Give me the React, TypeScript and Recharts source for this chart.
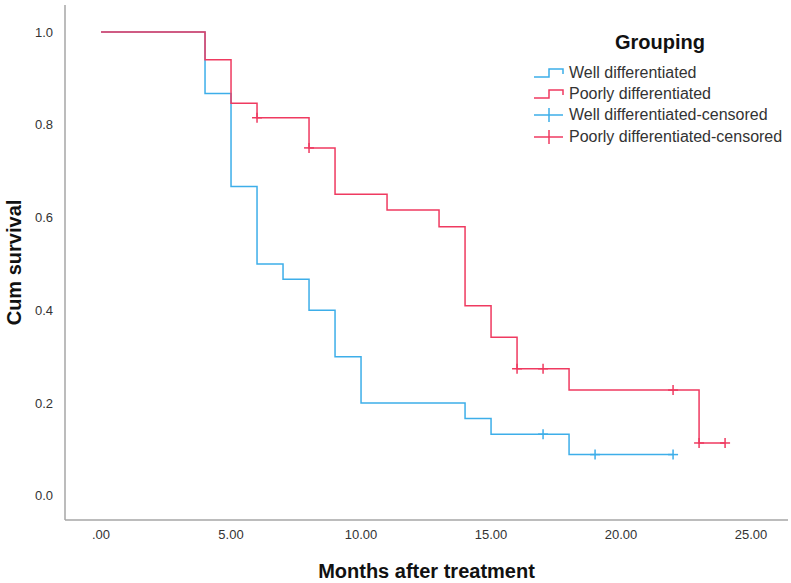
import { ComposedChart, Line, Scatter, XAxis, YAxis } from 'recharts'

// Kaplan-Meier steps
const wellTime = [0, 4, 5, 6, 7, 8, 9, 10, 14, 15, 18, 22]
const wellSurv = [1, 0.867, 0.667, 0.5, 0.467, 0.4, 0.3, 0.2, 0.167, 0.133, 0.089, 0.089]
const wellCensTime = [17, 19, 22]
const wellCensSurv = [0.133, 0.089, 0.089]

const poorTime = [0, 4, 5, 6, 8, 9, 11, 13, 14, 15, 16, 18, 23, 24]
const poorSurv = [1, 0.94, 0.846, 0.815, 0.75, 0.65, 0.616, 0.58, 0.41, 0.342, 0.274, 0.228, 0.114, 0.114]
const poorCensTime = [6, 8, 16, 17, 22, 23, 24]
const poorCensSurv = [0.815, 0.75, 0.274, 0.274, 0.228, 0.114, 0.114]

const xTicks = [0, 5, 10, 15, 20, 25]
const yTicks = [0, 0.2, 0.4, 0.6, 0.8, 1.0]

const legendTitle = 'Grouping'
const legendLabels = [
  'Well differentiated',
  'Poorly differentiated',
  'Well differentiated-censored',
  'Poorly differentiated-censored',
]

const BLUE = '#3daee9'
const RED = '#ef3a60'
const FONT = '"Liberation Sans", Arial, sans-serif'

const zip = (xs: number[], ys: number[]) => xs.map((x, i) => ({ x, y: ys[i] }))

const wellData = zip(wellTime, wellSurv)
const poorData = zip(poorTime, poorSurv)
const wellCens = zip(wellCensTime, wellCensSurv)
const poorCens = zip(poorCensTime, poorCensSurv)

const cross = (color: string) => (props: any) => {
  const { cx, cy } = props
  return (
    <g stroke={color} strokeWidth={1.5}>
      <line x1={cx - 5} y1={cy} x2={cx + 5} y2={cy} />
      <line x1={cx} y1={cy - 5} x2={cx} y2={cy + 5} />
    </g>
  )
}

function StepIcon({ color }: { color: string }) {
  return (
    <svg width={32} height={14} style={{ display: 'block' }}>
      <polyline points="1,11 16,11 16,3 30,3 30,8" fill="none" stroke={color} strokeWidth={1.5} />
    </svg>
  )
}

function CrossIcon({ color }: { color: string }) {
  return (
    <svg width={32} height={14} style={{ display: 'block' }}>
      <line x1={1} y1={7} x2={30} y2={7} stroke={color} strokeWidth={1.5} />
      <line x1={16} y1={0} x2={16} y2={14} stroke={color} strokeWidth={1.5} />
    </svg>
  )
}

// legend sits over the plot, outside recharts' layout so it takes no space
function KMLegend() {
  const icons = [
    <StepIcon color={BLUE} />,
    <StepIcon color={RED} />,
    <CrossIcon color={BLUE} />,
    <CrossIcon color={RED} />,
  ]
  return (
    <div style={{ position: 'absolute', left: 533, top: 29, width: 258, fontFamily: FONT, color: '#333' }}>
      <div style={{ fontSize: 20, fontWeight: 'bold', color: '#111', marginLeft: 82, height: 26, lineHeight: '26px', marginBottom: 7 }}>
        {legendTitle}
      </div>
      {legendLabels.map((l, i) => (
        <div key={l} style={{ display: 'flex', alignItems: 'center', height: 21.3, fontSize: 16 }}>
          {icons[i]}
          <span style={{ marginLeft: 4 }}>{l}</span>
        </div>
      ))}
    </div>
  )
}

const yLabel = (props: any) => {
  const { viewBox } = props
  const cx = viewBox.x + 14
  const cy = viewBox.y + viewBox.height / 2
  return (
    <text x={cx} y={cy} transform={`rotate(-90 ${cx} ${cy})`} textAnchor="middle" dominantBaseline="central"
      fontSize={20} fontWeight="bold" fill="#111" fontFamily={FONT}>
      Cum survival
    </text>
  )
}

export default function App() {
  return (
    <div style={{ position: 'absolute', left: 0, top: 0, width: 791, height: 583, background: '#fff' }}>
      <style>{'body{margin:0}'}</style>
      <ComposedChart width={791} height={583} margin={{ top: 5, right: 3, bottom: 0, left: 0 }}>
        <XAxis
          type="number"
          dataKey="x"
          domain={[-1.385, 26.42]}
          allowDataOverflow
          ticks={xTicks}
          tickFormatter={(v: number) => (v === 0 ? '.00' : v.toFixed(2))}
          tickLine={false}
          height={63}
          stroke="#a6a6a6"
          strokeWidth={1.5}
          tick={{ fontSize: 13, fill: '#333', fontFamily: FONT }}
          tickMargin={4}
          label={{ value: 'Months after treatment', position: 'insideBottom', offset: 5, fontSize: 20, fontWeight: 'bold', fill: '#111', fontFamily: FONT }}
        />
        <YAxis
          type="number"
          dataKey="y"
          domain={[-0.052, 1.058]}
          allowDataOverflow
          ticks={yTicks}
          tickFormatter={(v: number) => v.toFixed(1)}
          tickLine={false}
          width={65}
          stroke="#a6a6a6"
          strokeWidth={1.5}
          tick={{ fontSize: 13, fill: '#333', fontFamily: FONT }}
          tickMargin={6}
          label={yLabel}
        />
        <Line data={wellData} dataKey="y" type="stepAfter" stroke={BLUE} strokeWidth={1.5} dot={false} isAnimationActive={false} />
        <Line data={poorData} dataKey="y" type="stepAfter" stroke={RED} strokeWidth={1.5} dot={false} isAnimationActive={false} />
        <Scatter data={wellCens} dataKey="y" shape={cross(BLUE)} isAnimationActive={false} />
        <Scatter data={poorCens} dataKey="y" shape={cross(RED)} isAnimationActive={false} />
      </ComposedChart>
      <KMLegend />
    </div>
  )
}
